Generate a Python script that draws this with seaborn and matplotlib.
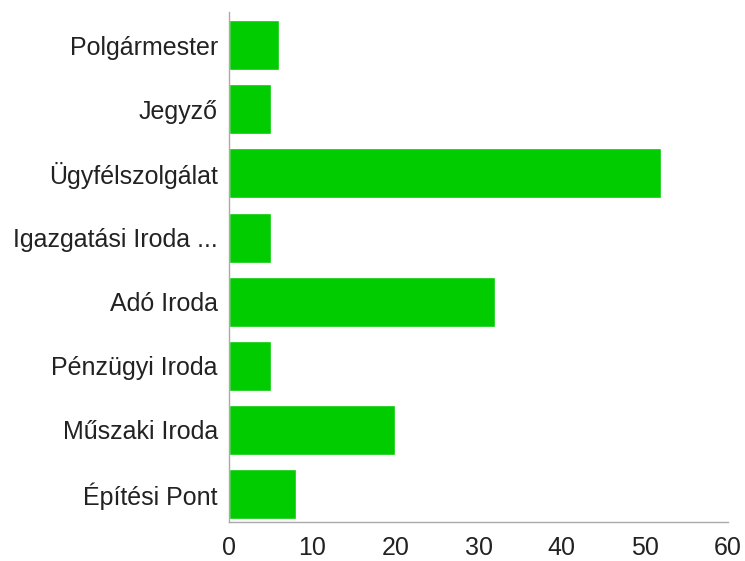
import pandas as pd
import matplotlib
matplotlib.use('Agg')
import matplotlib.pyplot as plt
import seaborn as sns

kategoriak = ['Polgármester', 'Jegyző', 'Ügyfélszolgálat', 'Igazgatási Iroda ...',
              'Adó Iroda', 'Pénzügyi Iroda', 'Műszaki Iroda', 'Építési Pont']
ertekek = [6, 5, 52, 5, 32, 5, 20, 8]
x_ticks = [0, 10, 20, 30, 40, 50, 60]

df = pd.DataFrame({'Kategoria': kategoriak, 'Ertek': ertekek})

sns.set_style('white')
plt.rcParams['font.family'] = ['Liberation Sans', 'DejaVu Sans']

fig = plt.figure(figsize=(7.45, 5.61), dpi=100)
ax = fig.add_axes([229 / 745, 39 / 561, 499 / 745, 510 / 561])

sns.barplot(data=df, x='Ertek', y='Kategoria', color='#00cc00',
            saturation=1, width=0.78, ax=ax)

ax.set_xlim(0, 60)
ax.set_ylim(7.44, -0.52)
ax.set_xticks(x_ticks)
ax.set_xlabel('')
ax.set_ylabel('')

sns.despine(ax=ax)
for s in ['left', 'bottom']:
    ax.spines[s].set_color('#aaaaaa')
    ax.spines[s].set_linewidth(1)
ax.tick_params(axis='both', colors='#aaaaaa', length=4, width=1,
               labelcolor='#222222', labelsize=18)
ax.tick_params(axis='y', pad=4)
ax.tick_params(axis='x', pad=6)

fig.savefig('out.png', dpi=100)
